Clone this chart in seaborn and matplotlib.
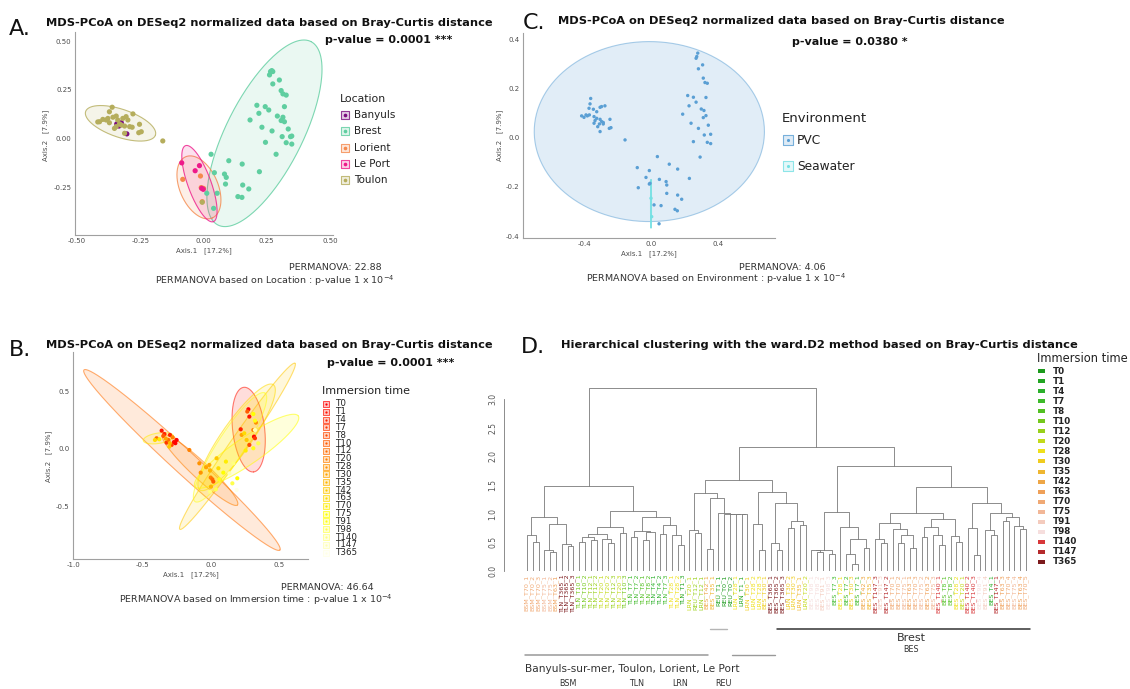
import colorsys
import numpy as np
import pandas as pd
import matplotlib
matplotlib.use("Agg")
import matplotlib.pyplot as plt
from matplotlib.colors import to_rgba
from matplotlib.patches import Rectangle
import seaborn as sns

sns.set_style("white")
plt.rcParams["font.family"] = ["DejaVu Sans"]

W, H = 1130, 689

# ---------------- data: panel A (Location) ----------------
toulon_x = [-0.361, -0.372, -0.411, -0.418, -0.398, -0.385, -0.378, -0.358, -0.345, -0.339, -0.319, -0.306,
            -0.299, -0.292, -0.282, -0.279, -0.325, -0.312, -0.332, -0.352, -0.253, -0.246, -0.256, -0.161,
            -0.312, -0.345, -0.372, -0.005]
toulon_y = [0.162, 0.139, 0.088, 0.087, 0.100, 0.097, 0.105, 0.111, 0.117, 0.097, 0.105, 0.114,
            0.097, 0.063, 0.060, 0.128, 0.071, 0.066, 0.077, 0.054, 0.075, 0.037, 0.032, -0.010,
            0.029, 0.063, 0.083, -0.323]
banyuls_x = [-0.343, -0.325, -0.334, -0.303]
banyuls_y = [0.077, 0.083, 0.066, 0.026]
lorient_x = [-0.082, -0.012, -0.009, -0.005, 0.000]
lorient_y = [-0.206, -0.189, -0.248, -0.320, -0.252]
leport_x = [-0.086, -0.033, -0.016, -0.007, -0.001]
leport_y = [-0.122, -0.162, -0.136, -0.252, -0.257]
brest_x = [0.265, 0.270, 0.274, 0.261, 0.300, 0.274, 0.307, 0.314, 0.327, 0.211, 0.244, 0.258, 0.219, 0.320,
           0.292, 0.314, 0.307, 0.320, 0.184, 0.231, 0.271, 0.335, 0.349, 0.344, 0.245, 0.311, 0.327, 0.349,
           0.287, 0.030, 0.100, 0.153, 0.043, 0.083, 0.090, 0.087, 0.221, 0.155, 0.179, 0.013, 0.054, 0.136,
           0.152, 0.040]
brest_y = [0.344, 0.349, 0.344, 0.327, 0.301, 0.281, 0.247, 0.230, 0.224, 0.172, 0.165, 0.148, 0.131, 0.165,
           0.117, 0.111, 0.094, 0.088, 0.097, 0.060, 0.041, 0.051, 0.015, 0.012, -0.017, 0.012, -0.019, -0.026,
           -0.078, -0.078, -0.111, -0.128, -0.172, -0.179, -0.196, -0.230, -0.167, -0.235, -0.255, -0.277,
           -0.277, -0.294, -0.298, -0.354]
locations = ["Banyuls", "Brest", "Lorient", "Le Port", "Toulon"]
loc_colors = ["#7b0e7f", "#5fcea0", "#f5894c", "#ee1a8a", "#b5ad5c"]
# ellipse: centre, major half-axis vector, minor half-axis vector (data units)
a_ell_group = ["Toulon", "Brest", "Lorient", "Le Port"]
a_ell_cx = [-0.328, 0.241, -0.018, -0.016]
a_ell_cy = [0.080, 0.029, -0.247, -0.228]
a_ell_ux = [0.138, 0.184, 0.053, 0.055]
a_ell_uy = [-0.060, 0.468, -0.156, -0.194]
a_ell_vx = [-0.017, 0.134, -0.069, -0.043]
a_ell_vy = [-0.068, -0.088, -0.039, -0.020]

# ---------------- data: panel C (Environment) ----------------
pvc_x = [-0.360, -0.364, -0.370, -0.344, -0.324, -0.304, -0.295, -0.275, -0.414, -0.400, -0.388, -0.380,
         -0.368, -0.340, -0.324, -0.304, -0.295, -0.285, -0.308, -0.340, -0.318, -0.304, -0.245, -0.249,
         -0.239, -0.285, -0.334, -0.155,
         0.279, 0.273, 0.269, 0.308, 0.283, 0.312, 0.322, 0.336, 0.219, 0.253, 0.269, 0.227, 0.328, 0.300,
         0.316, 0.312, 0.328, 0.189, 0.239, 0.283, 0.342, 0.356, 0.318, 0.253, 0.336, 0.356, 0.293,
         0.038, -0.082, -0.010, -0.030, -0.076, -0.006, 0.050, 0.090, 0.094, 0.109, 0.159, 0.229, 0.094,
         0.159, 0.183, 0.018, 0.060, 0.143, 0.157, 0.048, -0.010]
pvc_y = [0.161, 0.139, 0.121, 0.117, 0.107, 0.125, 0.128, 0.131, 0.090, 0.084, 0.094, 0.090,
         0.094, 0.087, 0.080, 0.076, 0.067, 0.057, 0.057, 0.060, 0.046, 0.026, 0.076, 0.039,
         0.042, 0.063, 0.071, -0.008,
         0.346, 0.332, 0.325, 0.298, 0.282, 0.244, 0.226, 0.223, 0.173, 0.166, 0.146, 0.131, 0.165, 0.118,
         0.112, 0.083, 0.091, 0.097, 0.060, 0.039, 0.052, 0.015, 0.012, -0.015, -0.018, -0.023, -0.078,
         -0.076, -0.121, -0.133, -0.161, -0.203, -0.185, -0.169, -0.178, -0.192, -0.107, -0.127, -0.165,
         -0.226, -0.233, -0.250, -0.273, -0.276, -0.291, -0.297, -0.350, -0.188]
sea_x = [0.000, 0.004]
sea_y = [-0.246, -0.321]
envs = ["PVC", "Seawater"]
env_colors = ["#5a9fd4", "#74e0e3"]
c_ell_group = ["PVC", "Seawater"]
c_ell_cx = [-0.010, 0.000]
c_ell_cy = [0.026, -0.269]
c_ell_ux = [0.687, 0.000]
c_ell_uy = [0.000, 0.099]
c_ell_vx = [0.000, 0.003]
c_ell_vy = [0.367, 0.000]

# ---------------- data: panel B (Immersion time) ----------------
time_labels = ["T0", "T1", "T4", "T7", "T8", "T10", "T12", "T20", "T28", "T30", "T35", "T42",
               "T63", "T70", "T75", "T91", "T98", "T140", "T147", "T365"]
b_x = [-0.360, -0.299, -0.251, -0.324, -0.287, 0.273, 0.280, 0.217, 0.314, 0.321, 0.280, 0.265,
       -0.340, -0.270, -0.260,
       -0.397, -0.348, -0.280, -0.311, -0.158, -0.085, -0.012, -0.036, -0.075, -0.007, -0.002, 0.010,
       0.000, 0.017, 0.309, 0.328, 0.224, -0.330, -0.300,
       -0.409, -0.377, -0.304, 0.041, 0.054, 0.109, 0.090, 0.061, 0.156, 0.192, 0.243, 0.260, 0.253,
       0.309, 0.345, 0.309, 0.321, 0.036, 0.163, 0.134, 0.187, -0.007, 0.321]
b_y = [0.159, 0.122, 0.078, 0.055, 0.035, 0.345, 0.281, 0.171, 0.107, 0.093, 0.035, 0.325,
       0.130, 0.060, 0.050,
       0.093, 0.113, 0.101, 0.078, -0.009, -0.125, -0.139, -0.159, -0.206, -0.188, -0.249, -0.264,
       -0.328, -0.284, 0.165, 0.229, 0.122, 0.090, 0.050,
       0.078, 0.084, 0.020, -0.081, -0.168, -0.110, -0.206, -0.264, -0.299, -0.255, 0.136, 0.078, -0.014,
       0.006, 0.049, 0.304, 0.246, -0.351, -0.125, -0.212, -0.357, -0.371, 0.165]
b_time = ["T1", "T4", "T0", "T7", "T8", "T0", "T1", "T4", "T0", "T7", "T8", "T10",
          "T4", "T1", "T0",
          "T12", "T10", "T20", "T12", "T20", "T28", "T30", "T30", "T28", "T35", "T20", "T12",
          "T35", "T10", "T20", "T28", "T30", "T30", "T35",
          "T63", "T70", "T42", "T42", "T63", "T70", "T75", "T91", "T98", "T75", "T63", "T42", "T70",
          "T91", "T98", "T75", "T91", "T98", "T140", "T147", "T365", "T140", "T147"]
b_ell_time = ["T12", "T42", "T1", "T20", "T70", "T75", "T63", "T91"]
b_ell_cx = [-0.212, 0.193, 0.275, -0.080, -0.384, 0.260, 0.187, 0.139]
b_ell_cy = [-0.096, 0.023, 0.168, -0.183, 0.093, -0.020, 0.101, 0.014]
b_ell_ux = [0.715, 0.420, 0.036, 0.273, 0.110, 0.377, 0.268, 0.255]
b_ell_uy = [-0.783, 0.722, -0.368, -0.304, 0.020, 0.307, 0.458, 0.472]
b_ell_vx = [-0.058, 0.050, -0.116, -0.042, -0.005, 0.055, 0.090, 0.082]
b_ell_vy = [-0.075, -0.041, -0.016, -0.053, 0.045, -0.096, -0.074, -0.063]

# ---------------- data: panel D (ward.D2 dendrogram, merge heights) ----------------
d_colors = ["#1c9a1c", "#22a522", "#2bb02b", "#3dba2a", "#52c022", "#74c81c", "#98d01a", "#c3da1a",
            "#efe01a", "#f0cc1e", "#efb630", "#eea646", "#efa058", "#f0a974", "#f2b797", "#f4cbbd",
            "#f6dedd", "#d8383a", "#b52a2c", "#7c1a1c"]
tree_LL = ("((BSM_T70_1,(BSM_T70_2,BSM_T70_3)0.51)0.63,((BSM_T75_1,(BSM_T75_2,BSM_T63_1)0.34)0.37,"
           "(TLN_T365_1,(TLN_T365_2,TLN_T365_3)0.43)0.47)0.82)0.95")
tree_LRa = ("((((TLN_T10_1,TLN_T10_2)0.51,(TLN_T12_1,TLN_T12_2)0.54)0.60,(TLN_T20_1,(TLN_T20_2,TLN_T12_3)0.48)0.56)0.64,"
            "(TLN_T20_3,TLN_T10_3)0.66)0.77")
tree_LRb = ("(((TLN_T7_1,TLN_T7_2)0.60,((TLN_T8_1,TLN_T8_2)0.54,TLN_T4_1)0.68)0.70,"
            "((TLN_T4_2,TLN_T7_3)0.65,(TLN_T28_1,(TLN_T28_2,TLN_T1_3)0.45)0.62)0.80)0.95")
tree_RA1 = ("((LRN_T20_1,(REU_T12_1,LRN_T12_1)0.67)0.72,((BES_T42_1,BES_T35_1)0.38,"
            "(REU_T1_1,(REU_T0_1,(REU_T0_2,(LRN_T28_1,(LRN_T1_1,LRN_T30_1)0.995)0.998)1.0)1.003)1.006)1.28)1.36")
tree_RA2 = ("((LRN_T28_2,(LRN_T28_3,BES_T30_1)0.37)0.82,((BES_T365_1,(BES_T365_2,BES_T365_3)0.37)0.49,"
            "((LRN_T30_2,LRN_T30_3)0.75,(LRN_T35_1,LRN_T20_2)0.80)0.87)1.18)1.38")
tree_RB1 = ("(((BES_T98_1,(BES_T98_2,BES_T91_1)0.33)0.36,(BES_T98_3,BES_T7_3)0.30)0.37,"
            "(BES_T28_1,((BES_T7_2,(BES_T30_3,BES_T7_1)0.12)0.30,(BES_T42_3,BES_T35_3)0.40)0.55)0.77)1.03")
tree_RB2a1 = ("((BES_T147_3,(BES_T91_3,BES_T147_2)0.48)0.56,(BES_T70_1,((BES_T70_2,BES_T75_1)0.48,"
              "(BES_T63_1,BES_T70_3)0.40)0.63)0.73)0.84")
tree_RB2a2 = ("(((BES_T75_2,BES_T63_2)0.60,(BES_T75_3,(BES_T140_1,BES_T8_1)0.45)0.62)0.77,"
              "(BES_T8_2,(BES_T28_2,BES_T20_1)0.50)0.61)0.91")
tree_RB2b = ("((BES_T140_2,(BES_T140_3,BES_T98_4)0.28)0.75,((BES_T91_4,(BES_T4_1,BES_T147_1)0.62)0.72,"
             "((BES_T63_3,BES_T70_4)0.88,(BES_T75_4,(BES_T63_4,BES_T70_5)0.73)0.79)0.95)1.02)1.18")
tree_str = (f"(({tree_LL},({tree_LRa},{tree_LRb})1.05)1.48,(({tree_RA1},{tree_RA2})1.58,"
            f"({tree_RB1},(({tree_RB2a1},{tree_RB2a2})1.01,{tree_RB2b})1.47)1.84)2.16)3.20")


def heat_colors(n):
    j = n // 4
    i = n - j
    cols = [colorsys.hsv_to_rgb(h, 1, 1) for h in np.linspace(0, 1 / 6, i)]
    cols += [colorsys.hsv_to_rgb(1 / 6, s, 1) for s in np.linspace(1 - 1 / (2 * j), 1 / (2 * j), j)]
    return cols


heat = dict(zip(time_labels, heat_colors(len(time_labels))))
dcol = dict(zip(time_labels, d_colors))
loc_pal = dict(zip(locations, loc_colors))
env_pal = dict(zip(envs, env_colors))

fig = plt.figure(figsize=(W / 100, H / 100), dpi=100)


def px_axes(left, top, right, bottom):
    return fig.add_axes([left / W, 1 - bottom / H, (right - left) / W, (bottom - top) / H])


def style_axes(ax):
    for s in ["top", "right"]:
        ax.spines[s].set_visible(False)
    for s in ["left", "bottom"]:
        ax.spines[s].set_color("#a0a0a0")
        ax.spines[s].set_linewidth(0.8)
    ax.tick_params(length=1.5, width=0.6, color="#a0a0a0", labelsize=5, labelcolor="#4d4d4d", pad=1)
    ax.set_xlabel("")
    ax.set_ylabel("")


def draw_ellipse(ax, cx, cy, ux, uy, vx, vy, color, fill_alpha, edge_alpha=0.8):
    t = np.linspace(0, 2 * np.pi, 240)
    ex = cx + ux * np.cos(t) + vx * np.sin(t)
    ey = cy + uy * np.cos(t) + vy * np.sin(t)
    ax.fill(ex, ey, color=color, alpha=fill_alpha, lw=0, zorder=1)
    ax.plot(ex, ey, color=color, alpha=edge_alpha, lw=0.8, zorder=1)


# ---------------- panel A ----------------
df_a = pd.DataFrame({
    "x": banyuls_x + brest_x + lorient_x + leport_x + toulon_x,
    "y": banyuls_y + brest_y + lorient_y + leport_y + toulon_y,
    "Location": (["Banyuls"] * len(banyuls_x) + ["Brest"] * len(brest_x) + ["Lorient"] * len(lorient_x)
                 + ["Le Port"] * len(leport_x) + ["Toulon"] * len(toulon_x)),
})
ax_a = px_axes(75, 32, 333, 235)
for g, cx, cy, ux, uy, vx, vy in zip(a_ell_group, a_ell_cx, a_ell_cy, a_ell_ux, a_ell_uy, a_ell_vx, a_ell_vy):
    draw_ellipse(ax_a, cx, cy, ux, uy, vx, vy, loc_pal[g], 0.13)
sns.scatterplot(data=df_a, x="x", y="y", hue="Location", palette=loc_pal, s=14, linewidth=0,
                legend=False, ax=ax_a, zorder=3)
ax_a.set_xlim(-0.508, 0.512)
ax_a.set_ylim(-0.490, 0.546)
ax_a.set_xticks([-0.5, -0.25, 0, 0.25, 0.5])
ax_a.set_xticklabels(["-0.50", "-0.25", "0.00", "0.25", "0.50"])
ax_a.set_yticks([-0.25, 0, 0.25, 0.5])
ax_a.set_yticklabels(["-0.25", "0.00", "0.25", "0.50"])
style_axes(ax_a)

# ---------------- panel C ----------------
df_c = pd.DataFrame({
    "x": pvc_x + sea_x,
    "y": pvc_y + sea_y,
    "Environment": ["PVC"] * len(pvc_x) + ["Seawater"] * len(sea_x),
})
ax_c = px_axes(523, 33, 775, 238)
draw_ellipse(ax_c, c_ell_cx[0], c_ell_cy[0], c_ell_ux[0], c_ell_uy[0], c_ell_vx[0], c_ell_vy[0],
             env_pal["PVC"], 0.18, 0.5)
draw_ellipse(ax_c, c_ell_cx[1], c_ell_cy[1], c_ell_ux[1], c_ell_uy[1], c_ell_vx[1], c_ell_vy[1],
             env_pal["Seawater"], 0.4, 0.9)
sns.scatterplot(data=df_c, x="x", y="y", hue="Environment", palette=env_pal, s=6, linewidth=0,
                legend=False, ax=ax_c, zorder=3)
ax_c.set_xlim(-0.764, 0.740)
ax_c.set_ylim(-0.408, 0.428)
ax_c.set_xticks([-0.4, 0, 0.4])
ax_c.set_xticklabels(["-0.4", "0.0", "0.4"])
ax_c.set_yticks([-0.4, -0.2, 0, 0.2, 0.4])
ax_c.set_yticklabels(["-0.4", "-0.2", "0.0", "0.2", "0.4"])
style_axes(ax_c)

# ---------------- panel B ----------------
df_b = pd.DataFrame({"x": b_x, "y": b_y, "time": b_time})
ax_b = px_axes(73, 352, 308, 559)
for tm, cx, cy, ux, uy, vx, vy in zip(b_ell_time, b_ell_cx, b_ell_cy, b_ell_ux, b_ell_uy, b_ell_vx, b_ell_vy):
    draw_ellipse(ax_b, cx, cy, ux, uy, vx, vy, heat[tm], 0.14, 0.55)
sns.scatterplot(data=df_b, x="x", y="y", hue="time", palette=heat, s=9, linewidth=0,
                legend=False, ax=ax_b, zorder=3)
ax_b.set_xlim(-1.007, 0.708)
ax_b.set_ylim(-0.957, 0.843)
ax_b.set_xticks([-1, -0.5, 0, 0.5])
ax_b.set_xticklabels(["-1.0", "-0.5", "0.0", "0.5"])
ax_b.set_yticks([-0.5, 0, 0.5])
ax_b.set_yticklabels(["-0.5", "0.0", "0.5"])
style_axes(ax_b)


# ---------------- panel D ----------------
def parse_tree(s):
    s = s.replace(" ", "")
    pos = 0

    def node():
        nonlocal pos
        if s[pos] == "(":
            pos += 1
            left = node()
            pos += 1
            right = node()
            pos += 1
            start = pos
            while pos < len(s) and (s[pos].isdigit() or s[pos] == "."):
                pos += 1
            return (float(s[start:pos]), left, right)
        start = pos
        while s[pos] not in ",()":
            pos += 1
        return s[start:pos]

    return node()


leaves = []
segments = []


def layout(n):
    if isinstance(n, str):
        leaves.append(n)
        return len(leaves) - 1, 0.0
    h, left, right = n
    xl, hl = layout(left)
    xr, hr = layout(right)
    segments.append(([xl, xl, xr, xr], [hl, h, h, hr]))
    return (xl + xr) / 2, h


layout(parse_tree(tree_str))
n_leaf = len(leaves)
leaf0, leafN = 527, 1026
sp = (leafN - leaf0) / (n_leaf - 1)
px_per_h = 57.3
ax_d = px_axes(504, 380, 1032, 571)
for xs, ys in segments:
    ax_d.plot(xs, ys, color="#7a7a7a", lw=0.6)
for i, lab in enumerate(leaves):
    ax_d.text(i, -0.06, lab, rotation=90, ha="center", va="top", fontsize=4.6,
              color=dcol[lab.split("_")[1]], clip_on=False)
ax_d.set_xlim(-(leaf0 - 504) / sp, (n_leaf - 1) + (1032 - leafN) / sp)
ax_d.set_ylim(0, (571 - 380) / px_per_h)
for s in ["top", "right", "bottom"]:
    ax_d.spines[s].set_visible(False)
ax_d.spines["left"].set_bounds(0, 3)
ax_d.spines["left"].set_color("#7a7a7a")
ax_d.spines["left"].set_linewidth(0.6)
ax_d.set_xticks([])
ax_d.set_yticks(np.arange(0, 3.01, 0.5))
ax_d.set_yticklabels(["0.0", "0.5", "1.0", "1.5", "2.0", "2.5", "3.0"], rotation=90, va="center")
ax_d.tick_params(axis="y", length=3, width=0.6, color="#7a7a7a", labelsize=5.5, labelcolor="#555555", pad=2)

# ---------------- text / legends layer (pixel coordinates) ----------------
cv = fig.add_axes([0, 0, 1, 1], zorder=10)
cv.set_xlim(0, W)
cv.set_ylim(H, 0)
cv.axis("off")
cv.patch.set_alpha(0)

title_txt = "MDS-PCoA on DESeq2 normalized data based on Bray-Curtis distance"
for lx, ly, letter, tx, ty, px_, py_, ptxt in [
    (9, 29, "A.", 46, 23, 325, 40, "p-value = 0.0001 ***"),
    (523, 23, "C.", 558, 21, 792, 42, "p-value = 0.0380 *"),
    (9, 350, "B.", 46, 345, 327, 363, "p-value = 0.0001 ***"),
]:
    cv.text(lx, ly, letter, fontsize=16, va="center", ha="left", color="#111111")
    cv.text(tx, ty, title_txt, fontsize=8.2, fontweight="bold", va="center", ha="left", color="#111111")
    cv.text(px_, py_, ptxt, fontsize=8, fontweight="bold", va="center", ha="left", color="#111111")
cv.text(521, 347, "D.", fontsize=16, va="center", ha="left", color="#111111")
cv.text(561, 345, "Hierarchical clustering with the ward.D2 method based on Bray-Curtis distance",
        fontsize=8.25, fontweight="bold", va="center", ha="left", color="#111111")

# axis labels
lab_kw = dict(fontsize=5, color="#4d4d4d", va="center", ha="center")
cv.text(204, 251, "Axis.1   [17.2%]", **lab_kw)
cv.text(46, 135, "Axis.2   [7.9%]", rotation=90, **lab_kw)
cv.text(649, 254, "Axis.1   [17.2%]", **lab_kw)
cv.text(500, 135, "Axis.2   [7.9%]", rotation=90, **lab_kw)
cv.text(191, 575, "Axis.1   [17.2%]", **lab_kw)
cv.text(49, 456, "Axis.2   [7.9%]", rotation=90, **lab_kw)

# PERMANOVA notes
perm_kw = dict(fontsize=6.8, color="#333333", va="center", ha="center")
cv.text(335, 268, "PERMANOVA: 22.88", **perm_kw)
cv.text(275, 281, "PERMANOVA based on Location : p-value 1 x 10$^{-4}$", **perm_kw)
cv.text(782, 268, "PERMANOVA: 4.06", **perm_kw)
cv.text(716, 279, "PERMANOVA based on Environment : p-value 1 x 10$^{-4}$", **perm_kw)
cv.text(327, 588, "PERMANOVA: 46.64", **perm_kw)
cv.text(256, 600, "PERMANOVA based on Immersion time : p-value 1 x 10$^{-4}$", **perm_kw)

# legend A
cv.text(340, 99, "Location", fontsize=7.8, va="center", ha="left", color="#222222")
for k, (name, col) in enumerate(zip(locations, loc_colors)):
    y = 115 + 16.3 * k
    cv.scatter([345], [y], marker="s", s=30, facecolor=to_rgba(col, 0.2), edgecolor=to_rgba(col, 0.8),
               linewidths=0.8)
    cv.scatter([345], [y], s=7, color=col, linewidths=0)
    cv.text(354, y, name, fontsize=7.5, va="center", ha="left", color="#222222")

# legend C
cv.text(782, 118, "Environment", fontsize=9.5, va="center", ha="left", color="#222222",
        family=["Liberation Sans Narrow", "DejaVu Sans"])
for k, (name, col) in enumerate(zip(envs, env_colors)):
    y = 140 + 26 * k
    cv.scatter([788], [y], marker="s", s=52, facecolor=to_rgba(col, 0.2), edgecolor=to_rgba(col, 0.8),
               linewidths=0.8)
    cv.scatter([788], [y], s=5, color=col, linewidths=0)
    cv.text(797, y, name, fontsize=8.8, va="center", ha="left", color="#222222")

# legend B
cv.text(322, 391, "Immersion time", fontsize=8, va="center", ha="left", color="#222222")
for k, tm in enumerate(time_labels):
    y = 404 + 7.83 * k
    col = heat[tm]
    cv.scatter([326], [y], marker="s", s=20, facecolor=to_rgba(col, 0.25), edgecolor=to_rgba(col, 0.8),
               linewidths=0.6)
    cv.scatter([326], [y], s=2.5, color=col, linewidths=0)
    cv.text(335, y, tm, fontsize=6.3, va="center", ha="left", color="#222222")

# legend D
cv.text(1037, 358, "Immersion time", fontsize=8.3, va="center", ha="left", color="#222222")
for k, tm in enumerate(time_labels):
    y = 371 + 10.05 * k
    cv.add_patch(Rectangle((1038, y - 2), 6.5, 4, color=dcol[tm], lw=0))
    cv.text(1053, y, tm, fontsize=6.3, fontweight="bold", va="center", ha="left", color="#222222")

# site bars under dendrogram
cv.plot([710, 727], [629, 629], color="#b5b5b5", lw=1.0)
cv.plot([777, 1030], [629, 629], color="#333333", lw=1.1)
cv.plot([525, 708], [655, 655], color="#999999", lw=1.1)
cv.plot([732, 775], [655, 655], color="#999999", lw=1.0)
cv.text(911, 638, "Brest", fontsize=8, va="center", ha="center", color="#333333")
cv.text(911, 650, "BES", fontsize=5.8, va="center", ha="center", color="#333333")
cv.text(525, 669, "Banyuls-sur-mer, Toulon, Lorient, Le Port", fontsize=7.6, va="center", ha="left",
        color="#333333")
for cx_, code in zip([568, 637, 680, 723], ["BSM", "TLN", "LRN", "REU"]):
    cv.text(cx_, 683, code, fontsize=5.8, va="center", ha="center", color="#333333")

fig.savefig("out.png", dpi=100)
